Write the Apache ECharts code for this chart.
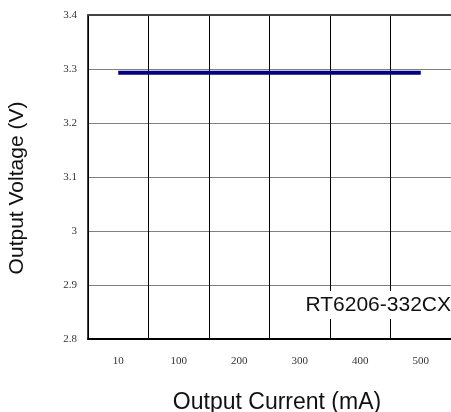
<!DOCTYPE html>
<html>
<head>
<meta charset="utf-8">
<script src="https://cdn.jsdelivr.net/npm/echarts@6/dist/echarts.min.js"></script>
<style>
  html, body { margin: 0; padding: 0; background: #fff; }
  #chart { width: 451px; height: 412px; }
</style>
</head>
<body>
<div id="chart"></div>
<script>
// x categories (output current, mA)
const currents = ['10', '100', '200', '300', '400', '500'];
// output voltage
const voltages = [3.293, 3.293, 3.293, 3.293, 3.293, 3.293];
// y tick values
const yTicks = [2.8, 2.9, 3.0, 3.1, 3.2, 3.3, 3.4];
const partName = 'RT6206-332CX';

const chart = echarts.init(document.getElementById('chart'));

const tickFont = { fontFamily: 'Liberation Serif', fontSize: 11, color: '#333' };

const option = {
  animation: false,
  grid: { left: 88, right: 0, top: 15, bottom: 73, outerBoundsMode: 'none', containLabel: false },
  title: {
    text: partName,
    right: 0,
    top: 291,
    padding: [4, 0, 3, 4],
    backgroundColor: '#fff',
    textStyle: { fontFamily: 'Liberation Sans', fontSize: 21, fontWeight: 'normal', color: '#111' }
  },
  xAxis: [
    {
      type: 'category',
      data: currents,
      boundaryGap: true,
      name: 'Output Current (mA)',
      nameLocation: 'middle',
      nameGap: 52,
      nameTextStyle: { fontFamily: 'Liberation Sans', fontSize: 23, color: '#111', padding: [0, 0, 0, 15] },
      axisLine: { lineStyle: { color: '#000', width: 2 } },
      axisTick: { show: false },
      axisLabel: Object.assign({ margin: 17 }, tickFont),
      splitLine: { show: true, lineStyle: { color: '#000', width: 1 } }
    },
    {
      // top frame line
      type: 'category',
      data: currents,
      position: 'top',
      axisLine: { lineStyle: { color: '#444', width: 2 } },
      axisTick: { show: false },
      axisLabel: { show: false },
      splitLine: { show: false }
    }
  ],
  yAxis: {
    type: 'value',
    min: yTicks[0],
    max: yTicks[yTicks.length - 1],
    interval: 0.1,
    name: 'Output Voltage (V)',
    nameLocation: 'middle',
    nameGap: 60,
    nameTextStyle: { fontFamily: 'Liberation Sans', fontSize: 21, color: '#111', padding: [0, 22, 0, 0] },
    axisLine: { show: true, lineStyle: { color: '#000', width: 1.5 } },
    axisTick: { show: false },
    axisLabel: Object.assign({
      margin: 11,
      formatter: v => String(Number(v.toFixed(1)))
    }, tickFont),
    splitLine: { show: true, lineStyle: { color: '#808080', width: 1 } }
  },
  series: [
    {
      type: 'line',
      data: voltages,
      symbol: 'none',
      lineStyle: { color: '#000080', width: 4 },
      z: 3
    }
  ]
};

chart.setOption(option);
</script>
</body>
</html>
